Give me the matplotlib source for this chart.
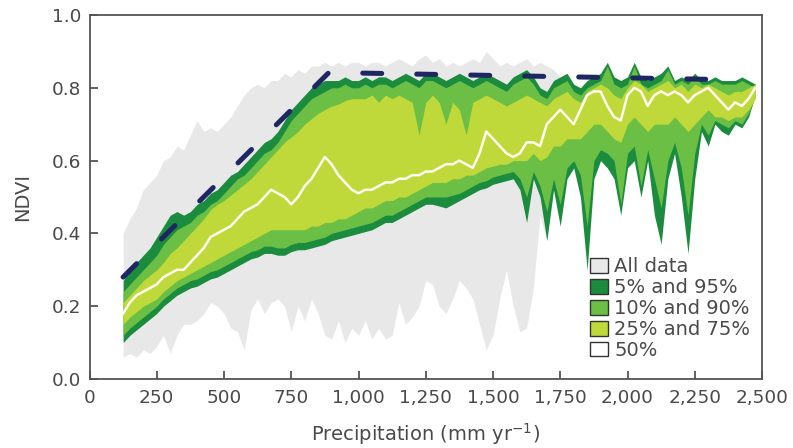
import numpy as np
import matplotlib
matplotlib.use("Agg")
import matplotlib.pyplot as plt
from matplotlib.patches import Patch

# ---------------- data ----------------
precip = list(range(125, 2476, 25))  # mm / yr

p95 = [0.27, 0.30, 0.32, 0.34, 0.36,
       0.39, 0.42, 0.45, 0.46, 0.45,
       0.46, 0.48, 0.49, 0.51, 0.52,
       0.54, 0.56, 0.57, 0.59, 0.61,
       0.63, 0.65, 0.66, 0.68, 0.71,
       0.74, 0.76, 0.78, 0.80, 0.81,
       0.82, 0.82, 0.82, 0.83, 0.82,
       0.82, 0.83, 0.82, 0.83, 0.83,
       0.82, 0.83, 0.84, 0.83, 0.82,
       0.84, 0.84, 0.83, 0.82, 0.83,
       0.84, 0.83, 0.82, 0.83, 0.84,
       0.83, 0.82, 0.81, 0.83, 0.84,
       0.85, 0.83, 0.80, 0.79, 0.82,
       0.83, 0.84, 0.81, 0.80, 0.82,
       0.83, 0.84, 0.87, 0.83, 0.82,
       0.83, 0.87, 0.83, 0.82, 0.83,
       0.84, 0.86, 0.82, 0.83, 0.82,
       0.84, 0.82, 0.82, 0.83, 0.82,
       0.82, 0.82, 0.83, 0.82, 0.81]

p90 = [0.24, 0.26, 0.28, 0.30, 0.32,
       0.34, 0.37, 0.39, 0.41, 0.42,
       0.43, 0.45, 0.46, 0.48, 0.49,
       0.51, 0.53, 0.55, 0.56, 0.58,
       0.60, 0.62, 0.63, 0.65, 0.68,
       0.71, 0.73, 0.75, 0.77, 0.78,
       0.79, 0.80, 0.80, 0.81, 0.80,
       0.80, 0.81, 0.80, 0.81, 0.81,
       0.80, 0.81, 0.82, 0.81, 0.80,
       0.82, 0.82, 0.81, 0.80, 0.81,
       0.82, 0.81, 0.80, 0.81, 0.82,
       0.81, 0.80, 0.79, 0.81, 0.82,
       0.83, 0.81, 0.78, 0.77, 0.80,
       0.81, 0.82, 0.79, 0.78, 0.80,
       0.81, 0.82, 0.86, 0.81, 0.80,
       0.81, 0.86, 0.81, 0.80, 0.81,
       0.82, 0.85, 0.81, 0.82, 0.81,
       0.83, 0.81, 0.81, 0.82, 0.81,
       0.81, 0.81, 0.82, 0.81, 0.80]

p75 = [0.21, 0.23, 0.25, 0.27, 0.285,
       0.30, 0.32, 0.345, 0.36, 0.38,
       0.40, 0.42, 0.44, 0.465, 0.48,
       0.49, 0.505, 0.52, 0.535, 0.55,
       0.57, 0.59, 0.61, 0.63, 0.65,
       0.665, 0.68, 0.70, 0.715, 0.73,
       0.74, 0.75, 0.755, 0.765, 0.77,
       0.77, 0.77, 0.78, 0.76, 0.78,
       0.77, 0.78, 0.77, 0.76, 0.67,
       0.76, 0.78, 0.76, 0.70, 0.76,
       0.74, 0.67, 0.76, 0.77, 0.78,
       0.77, 0.76, 0.75, 0.76, 0.77,
       0.78, 0.77, 0.76, 0.75, 0.77,
       0.78, 0.79, 0.77, 0.76, 0.79,
       0.80, 0.81, 0.80, 0.78, 0.77,
       0.80, 0.82, 0.81, 0.79, 0.80,
       0.81, 0.82, 0.80, 0.81, 0.79,
       0.81, 0.80, 0.81, 0.80, 0.79,
       0.78, 0.79, 0.79, 0.80, 0.81]

p50 = [0.18, 0.21, 0.23, 0.24, 0.25,
       0.26, 0.28, 0.29, 0.30, 0.30,
       0.32, 0.34, 0.36, 0.39, 0.40,
       0.41, 0.42, 0.44, 0.46, 0.47,
       0.48, 0.50, 0.52, 0.51, 0.50,
       0.48, 0.50, 0.53, 0.55, 0.58,
       0.61, 0.59, 0.56, 0.54, 0.52,
       0.51, 0.52, 0.52, 0.53, 0.54,
       0.54, 0.55, 0.55, 0.56, 0.56,
       0.57, 0.57, 0.58, 0.59, 0.59,
       0.60, 0.59, 0.58, 0.62, 0.68,
       0.66, 0.64, 0.62, 0.61, 0.62,
       0.65, 0.65, 0.64, 0.70, 0.72,
       0.74, 0.72, 0.70, 0.74, 0.78,
       0.79, 0.79, 0.75, 0.72, 0.71,
       0.78, 0.80, 0.79, 0.75, 0.78,
       0.79, 0.78, 0.79, 0.78, 0.76,
       0.78, 0.79, 0.80, 0.78, 0.76,
       0.74, 0.76, 0.75, 0.77, 0.80]

p25 = [0.15, 0.17, 0.185, 0.20, 0.21,
       0.22, 0.24, 0.255, 0.27, 0.28,
       0.29, 0.30, 0.31, 0.32, 0.33,
       0.34, 0.35, 0.36, 0.37, 0.38,
       0.39, 0.40, 0.41, 0.41, 0.41,
       0.41, 0.41, 0.41, 0.42, 0.42,
       0.43, 0.43, 0.44, 0.44, 0.45,
       0.46, 0.47, 0.47, 0.48, 0.49,
       0.49, 0.50, 0.50, 0.51, 0.52,
       0.53, 0.54, 0.54, 0.54, 0.55,
       0.55, 0.56, 0.56, 0.57, 0.58,
       0.585, 0.59, 0.59, 0.60, 0.60,
       0.60, 0.62, 0.60, 0.61, 0.64,
       0.64, 0.66, 0.66, 0.66, 0.68,
       0.70, 0.70, 0.68, 0.66, 0.65,
       0.70, 0.72, 0.70, 0.68, 0.70,
       0.70, 0.70, 0.72, 0.70, 0.68,
       0.70, 0.72, 0.74, 0.72, 0.72,
       0.71, 0.72, 0.72, 0.74, 0.77]

p10 = [0.12, 0.14, 0.155, 0.17, 0.185,
       0.20, 0.22, 0.235, 0.25, 0.26,
       0.27, 0.275, 0.285, 0.295, 0.30,
       0.31, 0.32, 0.33, 0.34, 0.35,
       0.355, 0.365, 0.365, 0.36, 0.36,
       0.37, 0.375, 0.375, 0.38, 0.385,
       0.39, 0.40, 0.405, 0.41, 0.415,
       0.42, 0.425, 0.43, 0.44, 0.45,
       0.45, 0.46, 0.47, 0.48, 0.49,
       0.50, 0.50, 0.50, 0.50, 0.505,
       0.51, 0.52, 0.53, 0.54, 0.545,
       0.555, 0.56, 0.565, 0.57, 0.55,
       0.50, 0.57, 0.53, 0.46, 0.55,
       0.48, 0.58, 0.60, 0.56, 0.42,
       0.60, 0.63, 0.62, 0.60, 0.48,
       0.62, 0.64, 0.53, 0.63, 0.55,
       0.47, 0.60, 0.65, 0.58, 0.45,
       0.62, 0.70, 0.67, 0.71, 0.70,
       0.69, 0.71, 0.70, 0.73, 0.775]

p5 = [0.10, 0.12, 0.135, 0.15, 0.165,
      0.18, 0.20, 0.215, 0.23, 0.24,
      0.25, 0.255, 0.265, 0.275, 0.28,
      0.29, 0.30, 0.31, 0.32, 0.33,
      0.335, 0.345, 0.345, 0.34, 0.34,
      0.35, 0.355, 0.355, 0.36, 0.365,
      0.37, 0.38, 0.385, 0.39, 0.395,
      0.40, 0.405, 0.41, 0.42, 0.43,
      0.43, 0.44, 0.45, 0.46, 0.47,
      0.48, 0.48, 0.475, 0.47, 0.48,
      0.49, 0.50, 0.51, 0.52, 0.525,
      0.535, 0.54, 0.545, 0.55, 0.52,
      0.43, 0.55, 0.50, 0.38, 0.52,
      0.42, 0.55, 0.58, 0.50, 0.30,
      0.55, 0.60, 0.58, 0.55, 0.45,
      0.58, 0.60, 0.50, 0.60, 0.45,
      0.37, 0.55, 0.62, 0.50, 0.345,
      0.55, 0.68, 0.64, 0.70, 0.68,
      0.67, 0.70, 0.69, 0.72, 0.78]

# "All data" envelope (only extends to 1,750 mm)
all_x = list(range(125, 1751, 25))
all_hi = [0.40, 0.44, 0.47, 0.52, 0.54,
          0.56, 0.60, 0.61, 0.64, 0.63,
          0.67, 0.71, 0.68, 0.69, 0.68,
          0.70, 0.72, 0.75, 0.78, 0.80,
          0.81, 0.80, 0.82, 0.82, 0.84,
          0.83, 0.85, 0.84, 0.86, 0.86,
          0.87, 0.86, 0.87, 0.86, 0.87,
          0.87, 0.86, 0.87, 0.87, 0.86,
          0.87, 0.88, 0.87, 0.86, 0.88,
          0.89, 0.87, 0.88, 0.86, 0.87,
          0.86, 0.87, 0.88, 0.87, 0.90,
          0.88, 0.86, 0.87, 0.86, 0.87,
          0.88, 0.86, 0.87, 0.86, 0.85,
          0.83]
all_lo = [0.06, 0.07, 0.06, 0.08, 0.07,
          0.09, 0.12, 0.07, 0.12, 0.15,
          0.15, 0.16, 0.18, 0.21, 0.20,
          0.18, 0.14, 0.13, 0.08, 0.19,
          0.22, 0.18, 0.21, 0.22, 0.20,
          0.13, 0.20, 0.16, 0.22, 0.18,
          0.12, 0.11, 0.16, 0.10, 0.14,
          0.12, 0.16, 0.11, 0.14, 0.11,
          0.12, 0.21, 0.15, 0.17, 0.20,
          0.27, 0.26, 0.20, 0.18, 0.22,
          0.27, 0.25, 0.22, 0.15, 0.08,
          0.12, 0.22, 0.30, 0.20, 0.13,
          0.14, 0.25, 0.45, 0.38, 0.52,
          0.42]

# upper envelope (dashed)
env_x = [125, 890, 2400]
env_y = [0.28, 0.842, 0.822]

xticks = [0, 250, 500, 750, 1000, 1250, 1500, 1750, 2000, 2250, 2500]
xticklabels = ["0", "250", "500", "750", "1,000", "1,250", "1,500", "1,750",
               "2,000", "2,250", "2,500"]
yticks = [0.0, 0.2, 0.4, 0.6, 0.8, 1.0]
yticklabels = ["0.0", "0.2", "0.4", "0.6", "0.8", "1.0"]
legend_labels = ["All data", "5% and 95%", "10% and 90%", "25% and 75%", "50%"]

# ---------------- style ----------------
C_GRAY = "#e8e8e8"
C_DARK = "#1b8c3e"
C_MED = "#6cbf45"
C_LIGHT = "#bfd93a"
C_NAVY = "#1e2762"
C_TEXT = "#4a4a4a"
C_AXIS = "#555555"

plt.rcParams["font.family"] = ["DejaVu Sans"]

fig = plt.figure(figsize=(7.93, 4.48), dpi=100)
ax = fig.add_axes([89.5 / 793, 1 - 379 / 448, (762 - 89.5) / 793, (379 - 15) / 448])

ax.fill_between(all_x, all_lo, all_hi, color=C_GRAY, lw=0, zorder=1)
ax.fill_between(precip, p5, p95, color=C_DARK, lw=0, zorder=2)
ax.fill_between(precip, p10, p90, color=C_MED, lw=0, zorder=3)
ax.fill_between(precip, p25, p75, color=C_LIGHT, lw=0, zorder=4)
ax.plot(precip, p50, color="#fffdf0", lw=1.8, zorder=5)
ax.plot(env_x, env_y, color=C_NAVY, lw=3.6, linestyle=(0, (3.8, 7.0)),
        dash_capstyle="round", zorder=6)

ax.set_xlim(0, 2500)
ax.set_ylim(0, 1.0)
ax.set_xticks(xticks)
ax.set_xticklabels(xticklabels)
ax.set_yticks(yticks)
ax.set_yticklabels(yticklabels)
ax.tick_params(direction="in", length=6, width=1.3, color=C_AXIS,
               labelsize=13.3, labelcolor=C_TEXT)
ax.tick_params(axis="x", pad=7)
ax.tick_params(axis="y", pad=6)
for s in ax.spines.values():
    s.set_color(C_AXIS)
    s.set_linewidth(1.3)

ax.set_xlabel("Precipitation (mm yr$^{-1}$)", fontsize=14, color=C_TEXT, labelpad=10)
ax.set_ylabel("NDVI", fontsize=14, color=C_TEXT, labelpad=14)

handles = [Patch(facecolor=c, edgecolor="#333333", linewidth=1.0)
           for c in [C_GRAY, C_DARK, C_MED, C_LIGHT, "white"]]
leg = ax.legend(handles, legend_labels, loc="upper left",
                bbox_to_anchor=((590 - 89.5) / (762 - 89.5), (379 - 257) / 364),
                frameon=False, fontsize=14, labelspacing=0.1,
                handlelength=0.95, handleheight=0.8, handletextpad=0.3,
                borderpad=0, borderaxespad=0)
for t in leg.get_texts():
    t.set_color(C_TEXT)
leg.set_zorder(10)

fig.savefig("out.png", dpi=100)
